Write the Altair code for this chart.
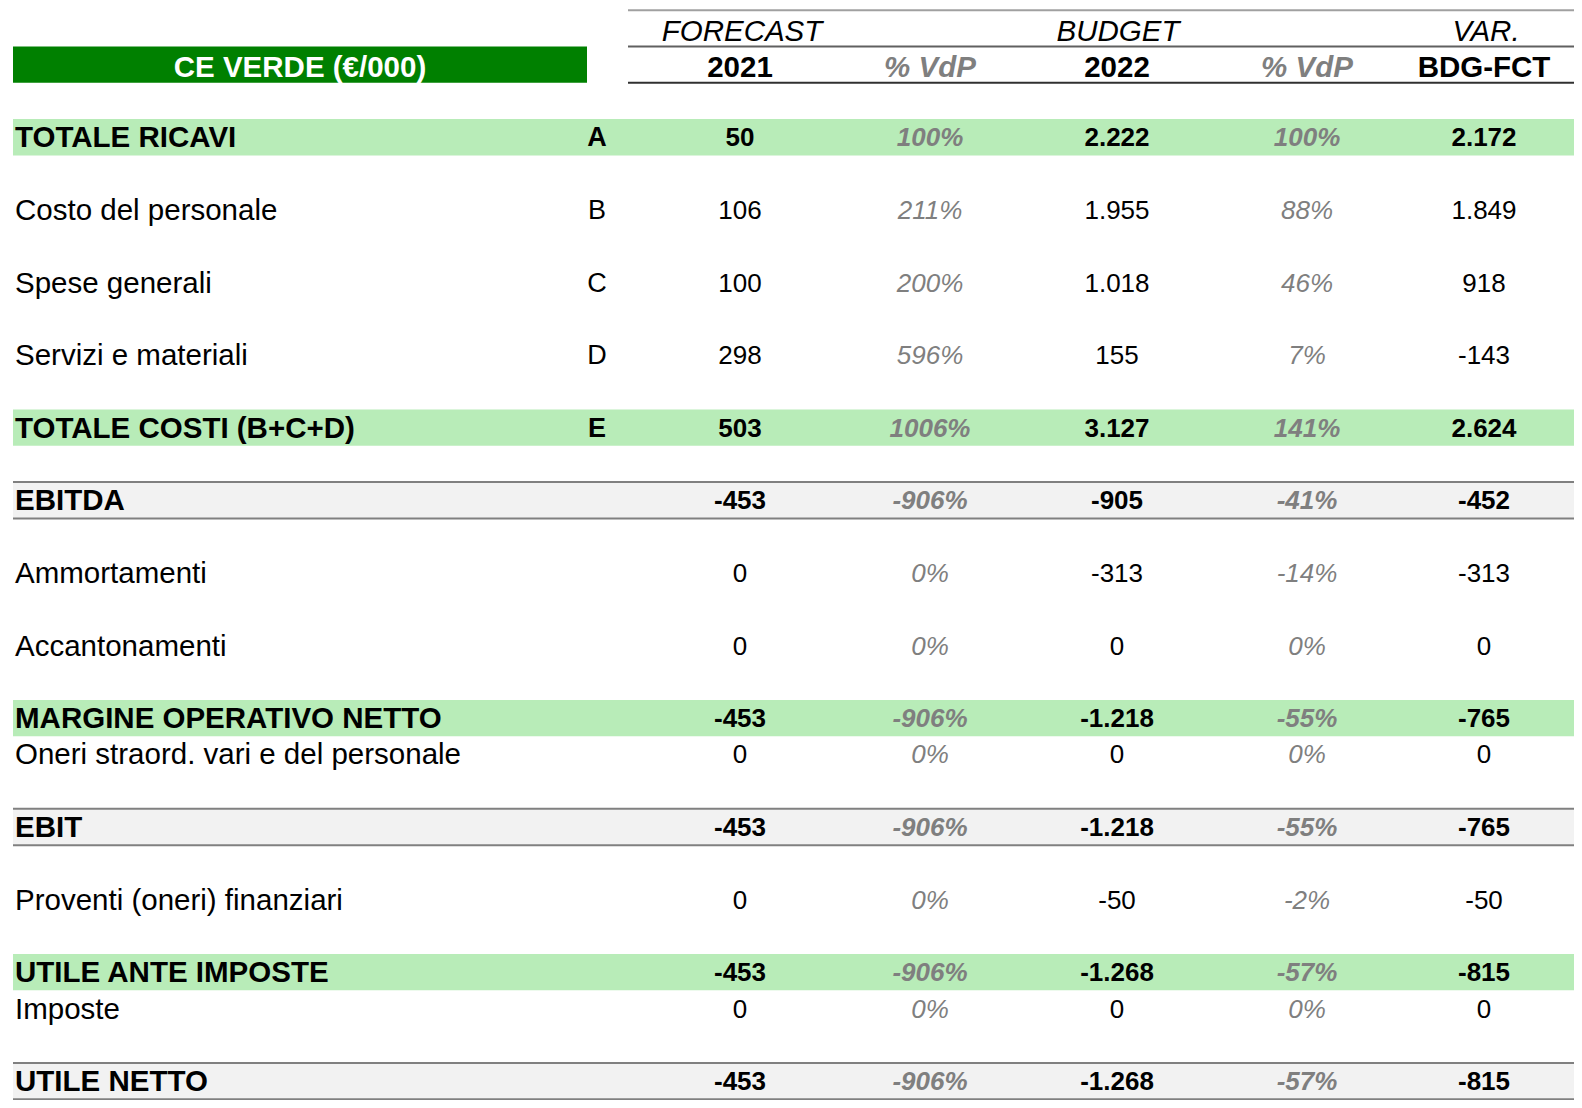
import altair as alt
import pandas as pd

# ---------------- data ----------------
labels = ["TOTALE RICAVI", "Costo del personale", "Spese generali", "Servizi e materiali",
          "TOTALE COSTI (B+C+D)", "EBITDA", "Ammortamenti", "Accantonamenti",
          "MARGINE OPERATIVO NETTO", "Oneri straord. vari e del personale", "EBIT",
          "Proventi (oneri) finanziari", "UTILE ANTE IMPOSTE", "Imposte", "UTILE NETTO"]
letters = ["A", "B", "C", "D", "E", "", "", "", "", "", "", "", "", "", ""]
forecast_2021 = [50, 106, 100, 298, 503, -453, 0, 0, -453, 0, -453, 0, -453, 0, -453]
vdp_2021 = [100, 211, 200, 596, 1006, -906, 0, 0, -906, 0, -906, 0, -906, 0, -906]
budget_2022 = [2222, 1955, 1018, 155, 3127, -905, -313, 0, -1218, 0, -1218, -50, -1268, 0, -1268]
vdp_2022 = [100, 88, 46, 7, 141, -41, -14, 0, -55, 0, -55, -2, -57, 0, -57]
var_bdg_fct = [2172, 1849, 918, -143, 2624, -452, -313, 0, -765, 0, -765, -50, -815, 0, -815]
row_kind = ["green", "plain", "plain", "plain", "green", "gray", "plain", "plain",
            "green", "plain", "gray", "plain", "green", "plain", "gray"]
group_headers = ["FORECAST", "BUDGET", "VAR."]
col_headers = ["2021", "% VdP", "2022", "% VdP", "BDG-FCT"]
title_text = "CE VERDE (€/000)"

# ---------------- layout ----------------
ROW_SLOT = [0, 2, 4, 6, 8, 10, 12, 14, 16, 17, 19, 21, 23, 24, 26]
X_LABEL, X_LETTER = 15, 597
X_COLS = [740, 930, 1117, 1307, 1484]
X_GROUPS = [742, 1118, 1486]
LEFT = 13
TITLE_X0, TITLE_X1 = 13, 587
HEAD_X0 = 628
FS_LABEL = 29.5
FS_HEAD = 29.5
FS_NUM = 26
FS_LETTER = 27
FONT = "Liberation Sans"
GREEN = "#008000"
LIGHT_GREEN = "#b8ecb8"
LIGHT_GRAY = "#f2f2f2"
PCT_GRAY = "#7f7f7f"
W, H = 1566, 1092
RIGHT = 8 + W
BODY_DY = 0.53
HEAD_DY = 0.6

xs = alt.Scale(domain=[8, 8 + W], range=[0, W], zero=False, nice=False)
ys = alt.Scale(domain=[-3.06, 27.02], range=[0, H], zero=False, nice=False)


def fmt(v):
    s = f"{abs(v):,}".replace(",", ".")
    return ("-" if v < 0 else "") + s


# ---------------- build tables ----------------
cells = []
bands = []
rules = []
for i, lab in enumerate(labels):
    slot = ROW_SLOT[i]
    kind = row_kind[i]
    bold = kind != "plain"
    w = "bold" if bold else "normal"
    yc = slot + BODY_DY
    cells.append(dict(x=X_LABEL, y=yc, t=lab, w=w, it="normal", al="left", c="#000000", fs=FS_LABEL))
    if letters[i]:
        cells.append(dict(x=X_LETTER, y=yc, t=letters[i], w=w, it="normal", al="center",
                          c="#000000", fs=FS_LETTER))
    vals = [fmt(forecast_2021[i]), f"{vdp_2021[i]}%", fmt(budget_2022[i]), f"{vdp_2022[i]}%", fmt(var_bdg_fct[i])]
    for j, v in enumerate(vals):
        pct = j in (1, 3)
        cells.append(dict(x=X_COLS[j], y=yc, t=v, w=w, it="italic" if pct else "normal",
                          al="center", c=PCT_GRAY if pct else "#000000", fs=FS_NUM))
    if kind == "green":
        bands.append(dict(x=LEFT, x2=RIGHT, y=slot, y2=slot + 1, c=LIGHT_GREEN))
    elif kind == "gray":
        bands.append(dict(x=LEFT, x2=RIGHT, y=slot, y2=slot + 1, c=LIGHT_GRAY))
        rules.append(dict(x=LEFT, x2=RIGHT, y=slot, c="#808080", sw=2))
        rules.append(dict(x=LEFT, x2=RIGHT, y=slot + 1, c="#808080", sw=2))

# header
for j, g in enumerate(group_headers):
    cells.append(dict(x=X_GROUPS[j], y=-3 + HEAD_DY, t=g, w="normal", it="italic", al="center",
                      c="#000000", fs=FS_HEAD))
for j, h in enumerate(col_headers):
    pct = "%" in h
    cells.append(dict(x=X_COLS[j], y=-2 + HEAD_DY, t=h, w="bold", it="italic" if pct else "normal",
                      al="center", c=PCT_GRAY if pct else "#000000", fs=FS_HEAD))
cells.append(dict(x=(TITLE_X0 + TITLE_X1) / 2, y=-2 + HEAD_DY, t=title_text, w="bold", it="normal",
                  al="center", c="#ffffff", fs=FS_HEAD))
bands.append(dict(x=TITLE_X0, x2=TITLE_X1, y=-2, y2=-1, c=GREEN))
rules.append(dict(x=HEAD_X0, x2=RIGHT, y=-3, c="#a0a0a0", sw=2))
rules.append(dict(x=HEAD_X0, x2=RIGHT, y=-2, c="#606060", sw=2))
rules.append(dict(x=HEAD_X0, x2=RIGHT, y=-1, c="#303030", sw=2))

cells_df = pd.DataFrame(cells)
bands_df = pd.DataFrame(bands)
rules_df = pd.DataFrame(rules)

band_layer = alt.Chart(bands_df).mark_rect().encode(
    x=alt.X("x:Q", scale=xs, axis=None),
    x2="x2:Q",
    y=alt.Y("y:Q", scale=ys, axis=None),
    y2="y2:Q",
    color=alt.Color("c:N", scale=None),
)

rule_layer = alt.Chart(rules_df).mark_rule(strokeWidth=2).encode(
    x=alt.X("x:Q", scale=xs, axis=None),
    x2="x2:Q",
    y=alt.Y("y:Q", scale=ys, axis=None),
    color=alt.Color("c:N", scale=None),
)

text_layers = []
for (w, it, al), grp in cells_df.groupby(["w", "it", "al"]):
    text_layers.append(
        alt.Chart(grp).mark_text(font=FONT, fontWeight=w, fontStyle=it,
                                 align=al, baseline="middle").encode(
            x=alt.X("x:Q", scale=xs, axis=None),
            y=alt.Y("y:Q", scale=ys, axis=None),
            text="t:N",
            color=alt.Color("c:N", scale=None),
            size=alt.Size("fs:Q", scale=None),
        )
    )

chart = alt.layer(band_layer, rule_layer, *text_layers).properties(
    width=W, height=H,
    autosize=alt.AutoSizeParams(type="none"),
    padding=0,
    background="#ffffff",
).configure_view(stroke=None)

chart.save("out.html", embed_options={"renderer": "svg", "actions": False})
